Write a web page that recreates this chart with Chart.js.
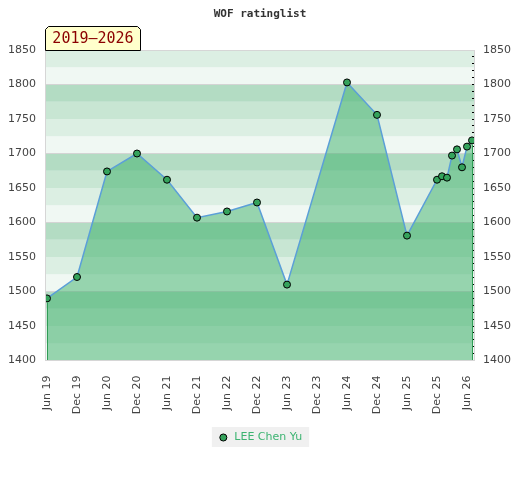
<!DOCTYPE html>
<html>
<head>
<meta charset="utf-8">
<title>WOF ratinglist</title>
<script src="https://cdn.jsdelivr.net/npm/chart.js@4.4.1/dist/chart.umd.min.js"></script>
<style>
  html, body { margin: 0; padding: 0; background: #fff; }
  #wrap { width: 520px; height: 480px; position: relative; }
</style>
</head>
<body>
<div id="wrap"><canvas id="chart"></canvas></div>
<script>
// rating list dates (year-month) and the player's rating on each list
const listDates = ['2019-06', '2019-12', '2020-06', '2020-12', '2021-06', '2021-12',
  '2022-06', '2022-12', '2023-06', '2024-06', '2024-12', '2025-06',
  '2025-12', '2026-01', '2026-02', '2026-03', '2026-04', '2026-05', '2026-06', '2026-07'];
const ratings = [1490, 1521, 1674, 1700, 1662, 1607,
  1616, 1629, 1510, 1803, 1756, 1581,
  1662, 1667, 1665, 1697, 1706, 1680, 1710, 1719];
const tickLabels = ['Jun 19', 'Dec 19', 'Jun 20', 'Dec 20', 'Jun 21', 'Dec 21', 'Jun 22', 'Dec 22',
  'Jun 23', 'Dec 23', 'Jun 24', 'Dec 24', 'Jun 25', 'Dec 25', 'Jun 26'];
const playerName = 'LEE Chen Yu';
const periodLabel = '2019–2026';
const chartTitle = 'WOF ratinglist';

const yMin = 1400, yMax = 1850;

// background stripes, 25 points each, repeating every 100
const bandColors = { 0: '#f0f8f3', 25: '#dcefe3', 50: '#c8e6d3', 75: '#b3dcc3' };

// months since the first list
const start = listDates[0].split('-').map(Number);
function monthIndex(d) {
  const [y, m] = d.split('-').map(Number);
  return (y - start[0]) * 12 + (m - start[1]);
}
const points = listDates.map((d, i) => ({ x: monthIndex(d), y: ratings[i] }));

const bandsPlugin = {
  id: 'bands',
  beforeDraw(chart) {
    const { ctx, chartArea: a, scales: { y } } = chart;
    ctx.save();
    for (let v = yMin; v < yMax; v += 25) {
      const top = y.getPixelForValue(v + 25);
      const bot = y.getPixelForValue(v);
      ctx.fillStyle = bandColors[((v % 100) + 100) % 100];
      ctx.fillRect(a.left, top, a.right - a.left, bot - top);
    }
    ctx.restore();
  }
};

const framePlugin = {
  id: 'frame',
  afterDatasetsDraw(chart) {
    const { ctx, chartArea: a, scales: { x, y } } = chart;
    ctx.save();
    // green edges of the filled area
    ctx.strokeStyle = '#2f9c55';
    ctx.lineWidth = 1;
    [points[0], points[points.length - 1]].forEach(p => {
      const px = Math.round(x.getPixelForValue(p.x)) + 0.5;
      ctx.beginPath();
      ctx.moveTo(px, y.getPixelForValue(p.y) + 4);
      ctx.lineTo(px, a.bottom);
      ctx.stroke();
    });
    ctx.strokeStyle = '#d6d6d6';
    ctx.strokeRect(Math.round(a.left) + 0.5, Math.round(a.top) + 0.5,
      Math.round(a.right - a.left) - 1, Math.round(a.bottom - a.top) - 1);
    ctx.restore();
  },
  afterDraw(chart) {
    const { ctx, chartArea: a } = chart;
    const l = Math.round(a.left) + 0.5, b = Math.round(a.top) + 0.5;
    const r = l + 95, t = b - 24, c = 3;
    ctx.save();
    ctx.beginPath();
    ctx.moveTo(l, b);
    ctx.lineTo(l, t + c);
    ctx.lineTo(l + c, t);
    ctx.lineTo(r - c, t);
    ctx.lineTo(r, t + c);
    ctx.lineTo(r, b);
    ctx.closePath();
    ctx.fillStyle = '#ffffcc';
    ctx.fill();
    ctx.strokeStyle = '#000';
    ctx.lineWidth = 1;
    ctx.stroke();
    ctx.fillStyle = '#8b0000';
    ctx.font = '15px "DejaVu Sans Mono", monospace';
    ctx.textAlign = 'center';
    ctx.textBaseline = 'middle';
    ctx.fillText(periodLabel, (l + r) / 2, b - 11);
    ctx.restore();
  }
};

const legendBgPlugin = {
  id: 'legendBg',
  beforeDraw(chart) {
    const lg = chart.legend;
    if (!lg || !lg.legendHitBoxes || !lg.legendHitBoxes.length) return;
    const h = lg.legendHitBoxes[0];
    const { ctx } = chart;
    ctx.save();
    ctx.fillStyle = '#f0f0f0';
    ctx.fillRect(h.left - 6, h.top - 5, h.width + 13, h.height + 9);
    ctx.restore();
  }
};

Chart.defaults.font.family = '"DejaVu Sans", Verdana, sans-serif';
Chart.defaults.font.size = 11;
Chart.defaults.color = '#444';

new Chart(document.getElementById('chart'), {
  type: 'line',
  data: {
    datasets: [{
      label: playerName,
      data: points,
      borderColor: '#5b9fd8',
      borderWidth: 1.5,
      backgroundColor: 'rgba(60,175,105,0.5)',
      fill: 'start',
      tension: 0,
      pointRadius: 3.5,
      pointHoverRadius: 3.5,
      pointBackgroundColor: '#35a35c',
      pointBorderColor: '#000',
      pointBorderWidth: 1
    }]
  },
  options: {
    responsive: true,
    maintainAspectRatio: false,
    animation: false,
    layout: { padding: { top: 0, bottom: 27, left: 0, right: 0 } },
    scales: {
      x: {
        type: 'linear',
        min: -0.4,
        max: 85.6,
        grid: { display: false },
        border: { display: false },
        ticks: {
          stepSize: 6,
          includeBounds: false,
          autoSkip: false,
          minRotation: 90,
          maxRotation: 90,
          padding: 7,
          color: '#444',
          callback: v => tickLabels[Math.round(v / 6)] ?? ''
        },
        afterFit: s => { s.height = 61.5; }
      },
      y: {
        position: 'left',
        min: yMin,
        max: yMax,
        border: { display: false },
        grid: {
          drawTicks: false,
          color: c => (c.tick.value % 100 === 0 ? '#d4d4d4' : 'rgba(0,0,0,0)')
        },
        ticks: { stepSize: 50, padding: 9, color: '#444', callback: v => String(v) },
        afterFit: s => { s.width = 45; }
      },
      y2: {
        position: 'right',
        min: yMin,
        max: yMax,
        z: 1,
        border: { display: false },
        grid: {
          drawOnChartArea: false,
          drawTicks: true,
          tickLength: -3,
          color: '#000'
        },
        ticks: {
          stepSize: 10,
          autoSkip: false,
          padding: 11,
          color: '#444',
          callback: v => (v % 50 === 0 ? String(v) : '')
        },
        afterFit: s => { s.width = 45; }
      }
    },
    plugins: {
      title: {
        display: true,
        text: chartTitle,
        color: '#333',
        font: { family: '"DejaVu Sans Mono", monospace', size: 11, weight: 'bold' },
        padding: { top: 8, bottom: 28.8 }
      },
      legend: {
        position: 'bottom',
        labels: {
          usePointStyle: true,
          pointStyle: 'circle',
          boxWidth: 14,
          boxHeight: 5,
          padding: 10,
          color: '#3cb371',
          generateLabels: chart => [{
            text: playerName,
            fillStyle: '#35a35c',
            strokeStyle: '#000',
            lineWidth: 1,
            pointStyle: 'circle',
            fontColor: '#3cb371',
            datasetIndex: 0
          }]
        }
      },
      tooltip: { enabled: false }
    }
  },
  plugins: [bandsPlugin, framePlugin, legendBgPlugin]
});
</script>
</body>
</html>
